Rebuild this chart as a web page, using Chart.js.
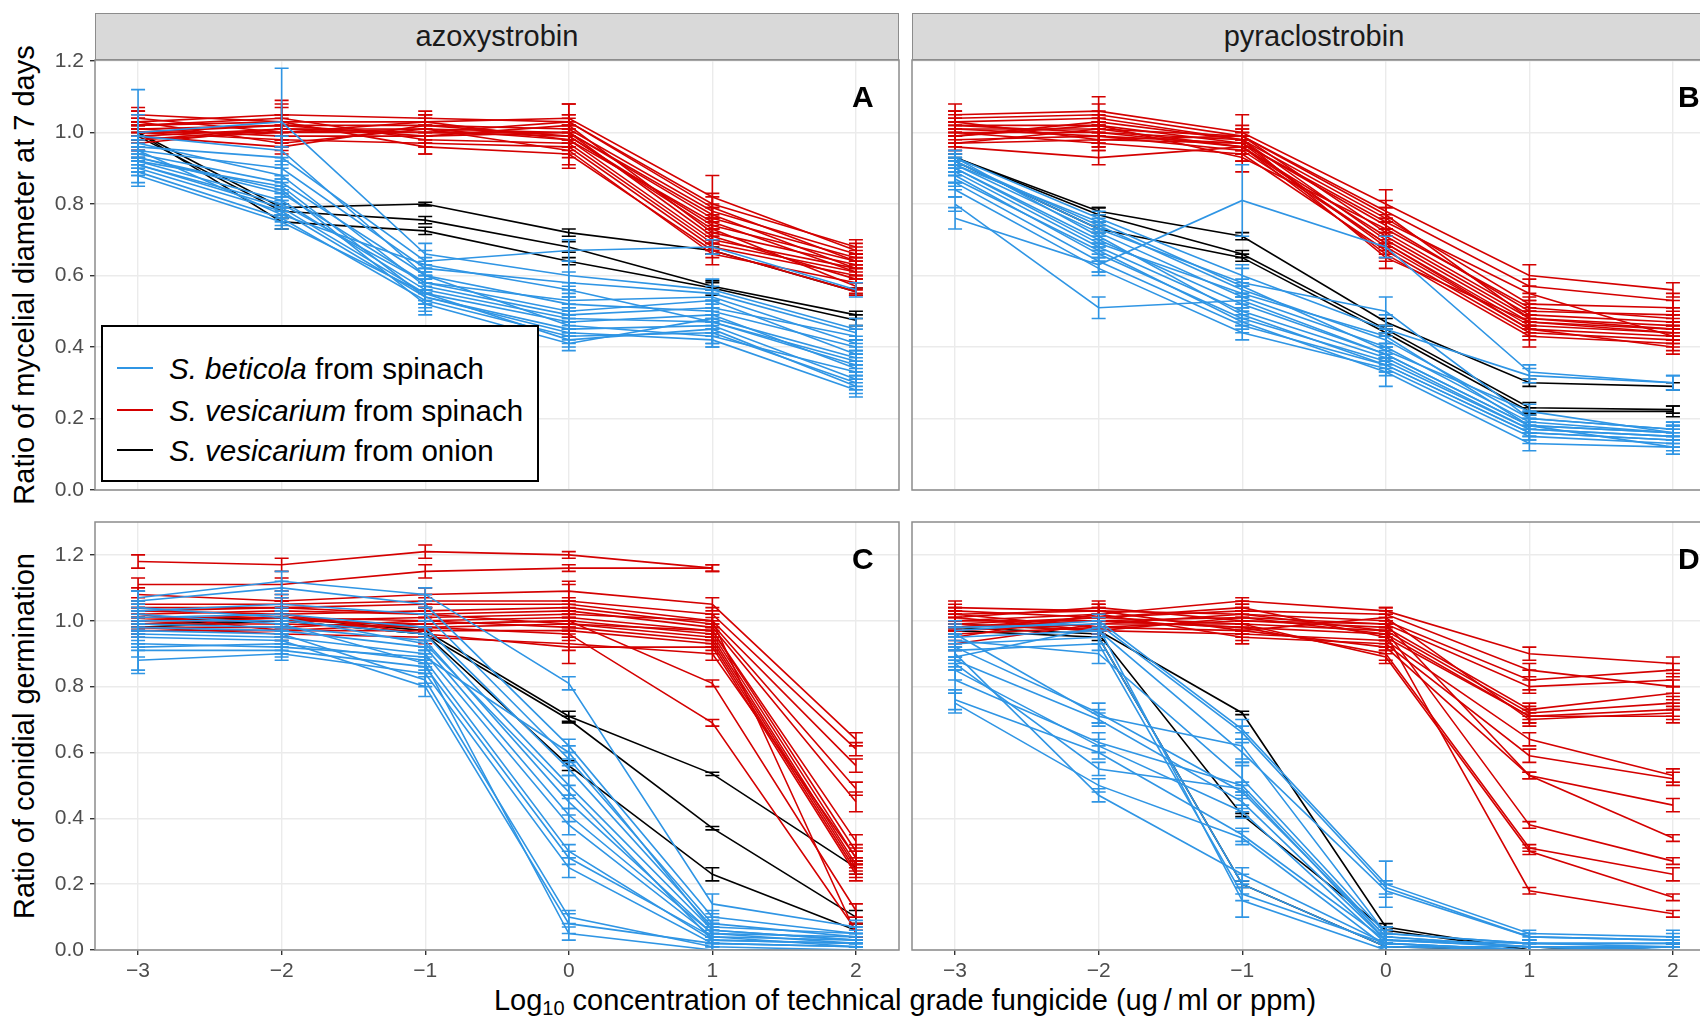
<!DOCTYPE html>
<html><head><meta charset="utf-8">
<script src="https://cdn.jsdelivr.net/npm/chart.js@4"></script>
<style>
html,body{margin:0;padding:0;width:1700px;height:1019px;overflow:hidden;background:#fff;font-family:"Liberation Sans",Arial,sans-serif;position:relative;}
canvas{position:absolute;}
.strip{position:absolute;top:13px;height:47px;width:804px;background:#d9d9d9;border:1.5px solid #8c8c8c;box-sizing:border-box;font-size:29px;color:#1a1a1a;display:flex;align-items:center;justify-content:center;}
.plab{position:absolute;font-weight:bold;font-size:30px;line-height:30px;color:#000;}
.ytitle{position:absolute;font-size:29px;line-height:29px;color:#000;white-space:nowrap;transform:translate(-50%,-50%) rotate(-90deg);}
#xtitle{position:absolute;left:905px;top:1000px;transform:translate(-50%,-50%);font-size:29px;line-height:29px;white-space:nowrap;color:#000;}
#xtitle sub{font-size:20px;vertical-align:-5px;line-height:0;}
#legend{position:absolute;left:101px;top:325px;width:438px;height:157px;border:2px solid #000;box-sizing:border-box;background:#fff;}
.lrow{position:absolute;left:0;height:29px;width:430px;}
.lline{position:absolute;left:14px;top:13px;width:36px;height:2px;}
.ltext{position:absolute;left:66px;top:0;font-size:29.5px;line-height:29px;white-space:nowrap;color:#000;}
</style></head>
<body>
<div class="strip" style="left:95px;">azoxystrobin</div>
<div class="strip" style="left:912px;">pyraclostrobin</div>
<div class="ytitle" style="left:24px;top:275px;">Ratio of mycelial diameter at 7 days</div>
<div class="ytitle" style="left:24px;top:736px;">Ratio of conidial germination</div>
<div id="xtitle">Log<sub>10</sub> concentration of technical grade fungicide (ug&#8201;/&#8201;ml or ppm)</div>
<script>
// ---------- data ----------
const xTicks = [-3, -2, -1, 0, 1, 2];
const yTicks = [0, 0.2, 0.4, 0.6, 0.8, 1.0, 1.2];

// Panel A: azoxystrobin, mycelial diameter
const A_beticola = [
 [1.00,1.03,0.66,0.60,0.56,0.45],[0.96,0.93,0.64,0.67,0.68,0.56],[0.95,0.90,0.62,0.58,0.55,0.44],
 [0.94,0.86,0.60,0.52,0.50,0.40],[0.93,0.83,0.58,0.50,0.53,0.38],[0.92,0.81,0.56,0.48,0.47,0.36],
 [0.91,0.79,0.55,0.47,0.49,0.34],[0.90,0.78,0.54,0.45,0.46,0.31],[0.89,0.76,0.53,0.43,0.44,0.30],
 [0.88,0.75,0.55,0.42,0.45,0.29],[0.97,0.88,0.57,0.49,0.51,0.43],[0.99,0.95,0.60,0.46,0.43,0.33],
 [0.93,0.84,0.52,0.41,0.48,0.37],[0.91,0.80,0.58,0.53,0.54,0.41],[0.95,0.77,0.63,0.56,0.47,0.35],
 [0.92,0.85,0.54,0.44,0.42,0.28]];
const A_beticolaErr = [
 [0.12,0.15,0.03,0.04,0.03,0.03],[0.02,0.03,0.03,0.03,0.02,0.02],[0.03,0.03,0.02,0.03,0.02,0.02],
 [0.02,0.02,0.02,0.02,0.03,0.02],[0.03,0.02,0.02,0.02,0.02,0.02],[0.02,0.02,0.03,0.03,0.02,0.02],
 [0.02,0.02,0.02,0.02,0.02,0.02],[0.02,0.02,0.02,0.02,0.02,0.02],[0.03,0.02,0.02,0.02,0.04,0.02],
 [0.03,0.02,0.05,0.02,0.02,0.02],[0.02,0.04,0.02,0.02,0.02,0.02],[0.06,0.04,0.02,0.02,0.02,0.02],
 [0.02,0.02,0.03,0.02,0.02,0.02],[0.02,0.02,0.02,0.04,0.02,0.02],[0.02,0.02,0.02,0.02,0.06,0.02],
 [0.03,0.02,0.02,0.02,0.02,0.02]];
const A_vesSpinach = [
 [1.03,1.05,1.04,1.03,0.80,0.68],[1.02,1.03,1.03,1.04,0.82,0.67],[1.00,1.02,1.02,1.01,0.78,0.66],
 [1.04,1.00,1.01,1.00,0.76,0.65],[0.99,1.01,1.00,0.99,0.74,0.64],[1.01,0.99,0.99,1.02,0.72,0.63],
 [0.98,1.00,1.03,0.98,0.70,0.62],[1.02,1.04,0.98,0.97,0.69,0.61],[1.00,0.98,0.97,0.96,0.68,0.60],
 [0.97,1.01,1.00,1.00,0.71,0.59],[1.03,0.97,1.01,0.95,0.66,0.58],[1.01,1.02,0.99,1.00,0.77,0.62],
 [0.99,0.96,1.02,0.99,0.73,0.57],[1.05,1.03,0.96,0.94,0.67,0.555],[1.00,1.00,1.00,1.03,0.79,0.64],
 [0.98,1.01,1.01,0.98,0.75,0.61]];
const A_vesSpinachErr = [
 [0.03,0.04,0.02,0.05,0.03,0.02],[0.02,0.05,0.02,0.04,0.06,0.02],[0.03,0.02,0.03,0.03,0.02,0.02],
 [0.02,0.03,0.02,0.02,0.03,0.02],[0.04,0.02,0.03,0.03,0.02,0.02],[0.02,0.03,0.02,0.03,0.02,0.02],
 [0.03,0.02,0.02,0.04,0.03,0.02],[0.02,0.03,0.02,0.02,0.02,0.02],[0.03,0.02,0.03,0.03,0.02,0.02],
 [0.04,0.02,0.02,0.02,0.02,0.01],[0.02,0.02,0.02,0.05,0.03,0.02],[0.02,0.03,0.03,0.03,0.02,0.02],
 [0.03,0.02,0.02,0.02,0.02,0.02],[0.02,0.02,0.02,0.03,0.02,0.01],[0.02,0.02,0.03,0.02,0.03,0.02],
 [0.03,0.02,0.02,0.02,0.02,0.02]];
const A_vesOnion = [[1.00,0.79,0.80,0.72,0.67,0.555],[0.99,0.78,0.755,0.68,0.57,0.49],[1.00,0.75,0.725,0.64,0.565,0.475]];
const A_vesOnionErr = [[0.01,0.01,0.005,0.01,0.01,0.01],[0.01,0.02,0.01,0.015,0.01,0.01],[0.02,0.02,0.01,0.01,0.02,0.015]];

// Panel B: pyraclostrobin, mycelial diameter
const B_beticola = [
 [0.93,0.76,0.60,0.45,0.32,0.30],[0.92,0.74,0.56,0.42,0.20,0.17],[0.91,0.72,0.54,0.40,0.19,0.16],
 [0.90,0.70,0.52,0.38,0.18,0.16],[0.89,0.68,0.50,0.37,0.17,0.15],[0.88,0.66,0.48,0.36,0.17,0.15],
 [0.86,0.64,0.46,0.35,0.16,0.14],[0.84,0.62,0.44,0.34,0.15,0.13],[0.80,0.51,0.53,0.38,0.18,0.16],
 [0.76,0.63,0.81,0.68,0.33,0.30],[0.92,0.73,0.58,0.50,0.20,0.17],[0.90,0.69,0.55,0.43,0.18,0.12],
 [0.93,0.71,0.49,0.35,0.16,0.14],[0.87,0.67,0.47,0.33,0.13,0.12],[0.91,0.75,0.57,0.39,0.22,0.16]];
const B_beticolaErr = [
 [0.02,0.02,0.03,0.04,0.02,0.02],[0.02,0.02,0.02,0.02,0.02,0.02],[0.02,0.03,0.03,0.03,0.02,0.02],
 [0.02,0.02,0.02,0.02,0.02,0.02],[0.03,0.02,0.02,0.02,0.01,0.02],[0.02,0.02,0.02,0.02,0.02,0.02],
 [0.02,0.03,0.02,0.02,0.02,0.02],[0.02,0.02,0.02,0.02,0.02,0.02],[0.02,0.03,0.02,0.02,0.02,0.02],
 [0.03,0.02,0.10,0.03,0.02,0.02],[0.02,0.02,0.04,0.04,0.02,0.02],[0.02,0.02,0.02,0.02,0.02,0.02],
 [0.02,0.02,0.02,0.02,0.02,0.02],[0.02,0.02,0.02,0.04,0.02,0.02],[0.02,0.02,0.02,0.02,0.02,0.02]];
const B_vesSpinach = [
 [1.05,1.06,1.00,0.80,0.60,0.56],[1.04,1.05,0.99,0.78,0.57,0.53],[1.03,1.04,0.98,0.76,0.52,0.51],
 [1.02,1.02,0.97,0.74,0.50,0.49],[1.01,1.01,0.99,0.72,0.49,0.47],[1.00,1.00,0.96,0.71,0.48,0.46],
 [0.99,1.03,0.98,0.70,0.47,0.45],[0.98,0.99,0.95,0.69,0.46,0.44],[0.97,0.98,0.97,0.68,0.45,0.43],
 [1.00,0.97,0.94,0.67,0.44,0.42],[0.96,0.93,0.96,0.66,0.43,0.41],[1.02,1.00,0.98,0.65,0.47,0.44],
 [0.99,1.02,0.93,0.73,0.51,0.48],[1.01,0.99,0.97,0.75,0.55,0.43],[0.97,1.01,0.96,0.69,0.45,0.40],
 [1.03,0.98,0.99,0.77,0.48,0.45]];
const B_vesSpinachErr = [
 [0.03,0.04,0.05,0.04,0.03,0.02],[0.02,0.03,0.02,0.03,0.02,0.02],[0.03,0.02,0.02,0.03,0.02,0.02],
 [0.02,0.02,0.02,0.02,0.02,0.02],[0.02,0.02,0.03,0.03,0.02,0.02],[0.03,0.03,0.02,0.02,0.02,0.02],
 [0.02,0.02,0.02,0.02,0.02,0.02],[0.02,0.02,0.03,0.02,0.02,0.02],[0.02,0.02,0.02,0.02,0.02,0.02],
 [0.03,0.02,0.02,0.02,0.02,0.02],[0.02,0.02,0.02,0.02,0.03,0.02],[0.02,0.02,0.02,0.03,0.02,0.02],
 [0.02,0.02,0.04,0.02,0.02,0.02],[0.02,0.02,0.02,0.02,0.02,0.02],[0.02,0.02,0.02,0.02,0.02,0.02],
 [0.02,0.02,0.02,0.02,0.02,0.02]];
const B_vesOnion = [[0.93,0.78,0.71,0.47,0.30,0.29],[0.93,0.77,0.66,0.45,0.23,0.225],[0.92,0.73,0.65,0.44,0.22,0.22]];
const B_vesOnionErr = [[0.01,0.01,0.01,0.01,0.01,0.01],[0.01,0.02,0.01,0.01,0.015,0.01],[0.01,0.01,0.01,0.01,0.01,0.015]];

// Panel C: azoxystrobin, conidial germination
const C_beticola = [
 [1.07,1.12,1.08,0.81,0.14,0.07],[1.06,1.10,1.05,0.62,0.10,0.05],[1.03,1.05,1.02,0.58,0.08,0.04],
 [1.01,1.02,0.98,0.55,0.07,0.05],[1.00,1.00,0.96,0.50,0.06,0.03],[0.99,0.98,0.94,0.45,0.05,0.04],
 [0.98,0.97,0.92,0.41,0.05,0.02],[0.96,0.95,0.90,0.38,0.04,0.03],[0.92,0.93,0.88,0.30,0.03,0.02],
 [0.91,0.91,0.86,0.28,0.04,0.01],[0.88,0.90,0.84,0.25,0.02,0.01],[0.97,0.96,0.82,0.10,0.01,0.00],
 [0.95,0.94,0.80,0.08,0.02,0.01],[1.02,0.99,0.87,0.05,0.00,0.00],[0.93,0.92,0.89,0.60,0.06,0.03],
 [1.04,1.01,0.93,0.48,0.03,0.02]];
const C_beticolaErr = [
 [0.02,0.03,0.02,0.02,0.03,0.02],[0.03,0.02,0.03,0.02,0.02,0.02],[0.02,0.02,0.02,0.02,0.02,0.01],
 [0.05,0.02,0.02,0.02,0.02,0.02],[0.03,0.02,0.02,0.03,0.02,0.01],[0.02,0.02,0.02,0.02,0.02,0.02],
 [0.02,0.02,0.02,0.02,0.02,0.01],[0.02,0.02,0.02,0.03,0.02,0.02],[0.07,0.02,0.02,0.02,0.02,0.01],
 [0.02,0.02,0.02,0.02,0.02,0.01],[0.04,0.02,0.03,0.03,0.02,0.01],[0.02,0.02,0.02,0.02,0.01,0.01],
 [0.02,0.02,0.03,0.03,0.02,0.01],[0.02,0.02,0.02,0.02,0.01,0.01],[0.02,0.02,0.02,0.02,0.02,0.02],
 [0.02,0.02,0.02,0.02,0.02,0.01]];
const C_vesSpinach = [
 [1.18,1.17,1.21,1.20,1.16,null],[1.11,1.11,1.15,1.16,1.16,null],[1.08,1.06,1.08,1.09,1.05,0.64],
 [1.05,1.05,1.06,1.06,1.02,0.61],[1.04,1.04,1.05,1.05,1.00,0.56],[1.03,1.02,1.03,1.04,0.99,0.49],
 [1.02,1.03,1.02,1.03,0.98,0.45],[1.01,1.01,1.00,1.01,0.97,0.30],[1.00,1.00,0.99,1.00,0.96,0.28],
 [0.99,0.99,0.98,0.99,0.95,0.26],[0.98,0.98,1.00,0.98,0.94,0.25],[0.97,0.97,0.97,0.97,0.93,0.24],
 [1.00,1.02,0.96,0.92,0.92,0.23],[1.02,0.97,0.99,1.00,0.81,0.12],[0.99,1.01,0.98,0.96,0.69,0.06],
 [1.01,1.00,1.01,1.02,1.00,0.05],[0.98,0.96,0.95,0.93,0.90,0.28],[1.03,1.04,1.02,0.99,0.97,0.33]];
const C_vesSpinachErr = [
 [0.02,0.02,0.02,0.01,0.01,null],[0.02,0.02,0.02,0.01,0.01,null],[0.02,0.02,0.02,0.03,0.02,0.02],
 [0.02,0.02,0.02,0.05,0.02,0.02],[0.02,0.02,0.02,0.02,0.02,0.02],[0.03,0.02,0.02,0.02,0.02,0.02],
 [0.02,0.03,0.02,0.02,0.02,0.03],[0.02,0.02,0.02,0.02,0.02,0.02],[0.03,0.02,0.02,0.02,0.02,0.02],
 [0.02,0.02,0.02,0.02,0.02,0.02],[0.02,0.02,0.02,0.02,0.02,0.02],[0.02,0.02,0.02,0.02,0.02,0.02],
 [0.02,0.02,0.02,0.05,0.02,0.02],[0.02,0.02,0.02,0.02,0.01,0.02],[0.02,0.02,0.02,0.02,0.01,0.02],
 [0.02,0.02,0.02,0.02,0.02,0.01],[0.02,0.02,0.02,0.02,0.02,0.02],[0.02,0.02,0.02,0.02,0.02,0.02]];
const C_vesOnion = [[1.00,1.01,0.97,0.71,0.535,0.25],[0.99,1.00,0.96,0.70,0.37,0.10],[0.98,1.00,0.96,0.56,0.23,0.06]];
const C_vesOnionErr = [[0.01,0.01,0.01,0.015,0.005,0.02],[0.01,0.01,0.01,0.01,0.005,0.02],[0.02,0.01,0.01,0.015,0.02,0.02]];

// Panel D: pyraclostrobin, conidial germination
const D_beticola = [
 [0.97,1.00,0.67,0.20,0.05,0.04],[0.95,0.97,0.60,0.18,0.04,0.03],[0.94,0.90,0.52,0.05,0.02,0.02],
 [0.92,0.72,0.48,0.04,0.01,0.01],[0.88,0.70,0.45,0.03,0.01,0.01],[0.85,0.62,0.42,0.02,0.00,0.00],
 [0.76,0.60,0.35,0.03,0.01,0.00],[0.75,0.50,0.34,0.01,0.00,0.01],[0.90,0.47,0.23,0.02,0.00,0.00],
 [0.93,0.95,0.20,0.01,0.01,0.00],[0.91,0.93,0.17,0.02,0.00,0.01],[0.89,0.98,0.15,0.00,0.00,0.00],
 [0.96,0.71,0.62,0.05,0.02,0.01],[0.82,0.63,0.50,0.04,0.01,0.00],[0.87,0.55,0.49,0.03,0.02,0.02],
 [0.98,0.99,0.66,0.19,0.04,0.03]];
const D_beticolaErr = [
 [0.02,0.02,0.03,0.07,0.01,0.02],[0.03,0.02,0.03,0.02,0.01,0.02],[0.02,0.03,0.04,0.02,0.01,0.01],
 [0.03,0.03,0.02,0.02,0.01,0.01],[0.03,0.02,0.03,0.02,0.01,0.01],[0.03,0.02,0.02,0.02,0.01,0.01],
 [0.03,0.02,0.02,0.02,0.01,0.01],[0.03,0.02,0.02,0.01,0.01,0.01],[0.02,0.02,0.02,0.01,0.01,0.01],
 [0.02,0.02,0.03,0.01,0.01,0.01],[0.02,0.02,0.02,0.01,0.01,0.01],[0.02,0.02,0.05,0.01,0.01,0.01],
 [0.02,0.02,0.04,0.02,0.01,0.01],[0.04,0.03,0.07,0.02,0.01,0.01],[0.02,0.02,0.02,0.02,0.01,0.02],
 [0.02,0.02,0.02,0.02,0.01,0.01]];
const D_vesSpinach = [
 [1.00,1.02,1.06,1.03,0.90,0.87],[0.99,1.01,1.03,1.02,0.85,0.80],[1.02,1.03,1.02,1.00,0.82,0.85],
 [0.98,1.00,1.01,0.99,0.80,0.82],[1.01,1.04,1.00,0.98,0.73,0.78],[0.97,0.99,0.99,0.97,0.72,0.75],
 [1.00,1.00,0.98,0.96,0.71,0.73],[0.96,0.98,0.97,1.01,0.70,0.72],[1.03,1.01,1.04,0.95,0.71,0.71],
 [0.99,0.97,0.96,0.94,0.64,0.53],[0.95,1.02,0.95,0.93,0.59,0.52],[1.02,0.98,1.00,0.99,0.53,0.44],
 [1.04,1.03,0.97,0.92,0.53,0.34],[0.93,0.99,1.02,0.97,0.38,0.27],[1.00,1.00,0.98,0.90,0.31,0.23],
 [0.98,1.01,0.99,0.89,0.30,0.16],[1.01,0.97,1.01,0.96,0.18,0.11]];
const D_vesSpinachErr = [
 [0.03,0.02,0.01,0.01,0.02,0.02],[0.02,0.02,0.02,0.02,0.02,0.02],[0.02,0.02,0.02,0.02,0.03,0.02],
 [0.03,0.02,0.02,0.02,0.02,0.02],[0.02,0.02,0.03,0.02,0.02,0.02],[0.02,0.02,0.02,0.02,0.02,0.02],
 [0.02,0.02,0.02,0.02,0.02,0.02],[0.02,0.02,0.04,0.02,0.02,0.02],[0.02,0.02,0.02,0.02,0.02,0.02],
 [0.02,0.02,0.02,0.02,0.02,0.02],[0.02,0.02,0.02,0.02,0.02,0.02],[0.02,0.02,0.02,0.02,0.01,0.02],
 [0.02,0.02,0.02,0.02,0.01,0.01],[0.02,0.02,0.02,0.02,0.01,0.01],[0.02,0.02,0.02,0.02,0.01,0.02],
 [0.02,0.02,0.02,0.02,0.01,0.01],[0.02,0.02,0.02,0.02,0.01,0.01]];
const D_vesOnion = [[0.99,0.97,0.72,0.07,0.00,0.01],[0.98,0.96,0.41,0.06,0.00,0.01],[0.97,0.95,0.20,0.01,0.00,0.01]];
const D_vesOnionErr = [[0.01,0.01,0.005,0.01,0.00,0.01],[0.01,0.01,0.005,0.01,0.00,0.01],[0.01,0.01,0.01,0.01,0.00,0.01]];

const seriesNames = ['S. beticola from spinach', 'S. vesicarium from spinach', 'S. vesicarium from onion'];
const seriesColors = ['#2f95e4', '#d40000', '#000000'];

// ---------- plugins ----------
const errorBars = {
  id: 'errorBars',
  afterDatasetDraw(chart, args) {
    const ds = chart.data.datasets[args.index];
    if (!ds.err) return;
    const ctx = chart.ctx, a = chart.chartArea;
    const xs = chart.scales.x, ys = chart.scales.y;
    ctx.save();
    ctx.beginPath(); ctx.rect(a.left, a.top, a.right - a.left, a.bottom - a.top); ctx.clip();
    ctx.strokeStyle = ds.borderColor; ctx.lineWidth = 1.6;
    ds.data.forEach((p, j) => {
      const e = ds.err[j];
      if (p.y === null || e === null || e === undefined) return;
      const px = xs.getPixelForValue(p.x);
      const y1 = ys.getPixelForValue(p.y - e), y2 = ys.getPixelForValue(p.y + e);
      ctx.beginPath();
      ctx.moveTo(px, y1); ctx.lineTo(px, y2);
      ctx.moveTo(px - 7, y1); ctx.lineTo(px + 7, y1);
      ctx.moveTo(px - 7, y2); ctx.lineTo(px + 7, y2);
      ctx.stroke();
    });
    ctx.restore();
  }
};
const panelBorder = {
  id: 'panelBorder',
  afterDraw(chart) {
    const ctx = chart.ctx, a = chart.chartArea;
    ctx.save(); ctx.strokeStyle = '#8c8c8c'; ctx.lineWidth = 1.5;
    ctx.strokeRect(a.left, a.top, a.right - a.left, a.bottom - a.top);
    ctx.restore();
  }
};

const PAD_TOP = 14;
function makePanel(area, leftM, bottomM, yMax, groups, showY, showX) {
  const cv = document.createElement('canvas');
  const L = area[0] - leftM, T = area[1] - PAD_TOP;
  const W = area[2] - L + 2, H = area[3] - T + bottomM;
  cv.width = W; cv.height = H;
  cv.style.left = L + 'px'; cv.style.top = T + 'px';
  cv.style.width = W + 'px'; cv.style.height = H + 'px';
  document.body.appendChild(cv);
  const datasets = [];
  groups.forEach(g => {
    g.vals.forEach((v, i) => {
      datasets.push({
        data: xTicks.map((x, j) => ({ x: x, y: v[j] })),
        err: g.errs[i], borderColor: g.color, backgroundColor: g.color,
        borderWidth: 1.6, pointRadius: 0, fill: false, tension: 0, spanGaps: false
      });
    });
  });
  const tickFont = { family: 'Liberation Sans', size: 21 };
  new Chart(cv, {
    type: 'line',
    data: { datasets },
    options: {
      responsive: false, animation: false, devicePixelRatio: 1,
      layout: { padding: { top: PAD_TOP, right: 2, left: 0, bottom: 0 } },
      plugins: { legend: { display: false }, tooltip: { enabled: false } },
      scales: {
        x: {
          type: 'linear', min: -3.3, max: 2.3,
          afterBuildTicks: s => { s.ticks = xTicks.map(v => ({ value: v })); },
          afterFit: s => { s.height = bottomM; s.paddingLeft = 0; s.paddingRight = 0; s.paddingTop = 0; s.paddingBottom = 0; },
          border: { display: false },
          grid: { color: '#ebebeb', lineWidth: 1.4, drawTicks: showX, tickLength: 5, tickColor: '#333', tickWidth: 1.4 },
          ticks: { display: showX, padding: 4, color: '#4d4d4d', font: tickFont, maxRotation: 0,
                   callback: v => (v < 0 ? '\u2212' + Math.abs(v) : String(v)) }
        },
        y: {
          type: 'linear', min: 0, max: yMax,
          afterBuildTicks: s => { s.ticks = yTicks.map(v => ({ value: v })); },
          afterFit: s => { s.width = leftM; s.paddingTop = 0; s.paddingBottom = 0; s.paddingLeft = 0; s.paddingRight = 0; },
          border: { display: false },
          grid: { color: '#ebebeb', lineWidth: 1.4, drawTicks: showY, tickLength: 5, tickColor: '#333', tickWidth: 1.4 },
          ticks: { display: showY, padding: 6, color: '#4d4d4d', font: tickFont,
                   callback: v => v.toFixed(1) }
        }
      }
    },
    plugins: [errorBars, panelBorder]
  });
}

function groupsFor(bet, betE, vs, vsE, vo, voE) {
  return [
    { vals: bet, errs: betE, color: seriesColors[0] },
    { vals: vs, errs: vsE, color: seriesColors[1] },
    { vals: vo, errs: voE, color: seriesColors[2] }
  ];
}

makePanel([95, 60, 899, 490], 55, 14, 1.203, groupsFor(A_beticola, A_beticolaErr, A_vesSpinach, A_vesSpinachErr, A_vesOnion, A_vesOnionErr), true, false);
makePanel([912, 60, 1716, 490], 2, 14, 1.203, groupsFor(B_beticola, B_beticolaErr, B_vesSpinach, B_vesSpinachErr, B_vesOnion, B_vesOnionErr), false, false);
makePanel([95, 522, 899, 950], 55, 36, 1.30, groupsFor(C_beticola, C_beticolaErr, C_vesSpinach, C_vesSpinachErr, C_vesOnion, C_vesOnionErr), true, true);
makePanel([912, 522, 1716, 950], 2, 36, 1.30, groupsFor(D_beticola, D_beticolaErr, D_vesSpinach, D_vesSpinachErr, D_vesOnion, D_vesOnionErr), false, true);

// legend (real text)
const leg = document.createElement('div'); leg.id = 'legend';
const rowCenters = [41, 83, 123];
seriesNames.forEach((name, i) => {
  const r = document.createElement('div'); r.className = 'lrow'; r.style.top = (rowCenters[i] - 14.5) + 'px';
  const ln = document.createElement('div'); ln.className = 'lline'; ln.style.background = seriesColors[i];
  const tx = document.createElement('div'); tx.className = 'ltext';
  const parts = name.split(' from ');
  tx.innerHTML = '<i>' + parts[0] + '</i> from ' + parts[1];
  r.appendChild(ln); r.appendChild(tx); leg.appendChild(r);
});
document.body.appendChild(leg);

// panel letters
[['A', 852, 82], ['B', 1678, 82], ['C', 852, 544], ['D', 1678, 544]].forEach(([t, x, y]) => {
  const d = document.createElement('div'); d.className = 'plab';
  d.style.left = x + 'px'; d.style.top = y + 'px'; d.textContent = t;
  document.body.appendChild(d);
});
</script>
</body></html>
